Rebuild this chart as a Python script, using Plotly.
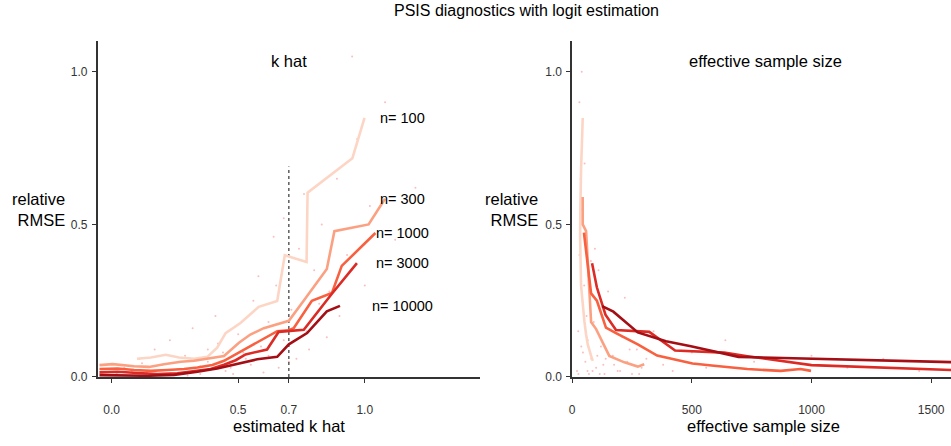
import plotly.graph_objects as go

W, H = 951, 446
FONT = "Liberation Sans, Arial, sans-serif"

# ---------------- data ----------------
series_names = ["n= 100", "n= 300", "n= 1000", "n= 3000", "n= 10000"]
series_colors = ["#fdd5c4", "#fca082", "#f8603f", "#dc2a25", "#a30f15"]

# left panel: estimated k hat vs relative RMSE
k_n100_x = [0.100, 0.155, 0.214, 0.266, 0.326, 0.378, 0.417, 0.450, 0.509, 0.581, 0.654, 0.684, 0.770, 0.774, 0.951, 0.999]
k_n100_y = [0.060, 0.064, 0.073, 0.064, 0.060, 0.066, 0.096, 0.144, 0.177, 0.230, 0.249, 0.399, 0.377, 0.604, 0.717, 0.849]
k_n300_x = [-0.048, 0.004, 0.089, 0.148, 0.207, 0.273, 0.326, 0.384, 0.444, 0.503, 0.548, 0.601, 0.654, 0.700, 0.765, 0.850, 0.880, 1.015, 1.080]
k_n300_y = [0.039, 0.042, 0.035, 0.033, 0.042, 0.050, 0.053, 0.060, 0.069, 0.112, 0.139, 0.160, 0.173, 0.184, 0.257, 0.354, 0.478, 0.500, 0.584]
k_n1000_x = [-0.048, 0.024, 0.089, 0.155, 0.220, 0.286, 0.339, 0.398, 0.444, 0.490, 0.542, 0.601, 0.654, 0.700, 0.719, 0.791, 0.870, 0.909, 1.042]
k_n1000_y = [0.026, 0.028, 0.023, 0.020, 0.023, 0.026, 0.031, 0.039, 0.053, 0.074, 0.099, 0.125, 0.150, 0.153, 0.160, 0.250, 0.275, 0.364, 0.472]
k_n3000_x = [-0.048, 0.024, 0.102, 0.181, 0.260, 0.326, 0.391, 0.444, 0.490, 0.529, 0.614, 0.660, 0.700, 0.759, 0.870, 0.969]
k_n3000_y = [0.015, 0.017, 0.013, 0.010, 0.012, 0.018, 0.026, 0.040, 0.055, 0.074, 0.090, 0.148, 0.151, 0.155, 0.273, 0.373]
k_n10000_x = [-0.048, 0.024, 0.142, 0.247, 0.339, 0.417, 0.496, 0.575, 0.654, 0.700, 0.772, 0.850, 0.902]
k_n10000_y = [0.006, 0.006, 0.004, 0.007, 0.017, 0.028, 0.044, 0.058, 0.066, 0.107, 0.144, 0.215, 0.233]

# right panel: effective sample size vs relative RMSE
e_n100_x = [44, 41, 37, 34, 33, 37, 45, 51, 58, 65, 79, 86]
e_n100_y = [0.849, 0.785, 0.678, 0.550, 0.462, 0.300, 0.215, 0.182, 0.140, 0.107, 0.069, 0.053]
e_n300_x = [44, 44, 58, 79, 100, 155, 218, 274, 301]
e_n300_y = [0.590, 0.500, 0.478, 0.180, 0.157, 0.069, 0.048, 0.034, 0.042]
e_n1000_x = [49, 79, 103, 141, 183, 274, 355, 454, 503, 593, 732, 871, 954, 998]
e_n1000_y = [0.473, 0.274, 0.250, 0.162, 0.144, 0.107, 0.070, 0.053, 0.044, 0.037, 0.026, 0.020, 0.026, 0.020]
e_n3000_x = [83, 103, 139, 183, 322, 430, 635, 732, 1000, 1620]
e_n3000_y = [0.373, 0.294, 0.204, 0.154, 0.148, 0.087, 0.080, 0.068, 0.039, 0.022]
e_n10000_x = [125, 172, 274, 392, 496, 695, 1620]
e_n10000_y = [0.232, 0.214, 0.146, 0.117, 0.101, 0.066, 0.048]

# faint individual estimates (sparse hand-read sample of the point cloud)
k_pts_x = [0.02, 0.05, 0.08, 0.11, 0.14, 0.17, 0.20, 0.23, 0.26, 0.29, 0.32, 0.35, 0.38, 0.41, 0.44,
           0.47, 0.50, 0.53, 0.56, 0.59, 0.62, 0.65, 0.68, 0.71, 0.74, 0.77, 0.80, 0.83, 0.86, 0.89,
           0.93, 0.97, 1.02, 1.08, 0.35, 0.45, 0.55, 0.62, 0.70, 0.78, 0.85, 0.60, 0.66, 0.73, 0.52,
           0.42, 0.30, 0.12, 0.90, 1.00, 1.12, 1.20, 0.58, 0.64, 0.76, 0.82, 0.48, 0.38, 0.68, 0.95]
k_pts_y = [0.010, 0.030, 0.020, 0.060, 0.015, 0.090, 0.040, 0.120, 0.025, 0.070, 0.160, 0.035, 0.050, 0.200, 0.080,
           0.030, 0.140, 0.060, 0.250, 0.100, 0.180, 0.300, 0.120, 0.220, 0.420, 0.150, 0.350, 0.500, 0.280, 0.650,
           0.400, 0.780, 0.560, 0.900, 0.010, 0.020, 0.040, 0.070, 0.050, 0.090, 0.130, 0.015, 0.030, 0.060, 0.080,
           0.110, 0.005, 0.045, 0.200, 0.300, 0.450, 0.620, 0.330, 0.460, 0.600, 0.240, 0.010, 0.090, 0.520, 1.050]
e_pts_x = [20, 25, 30, 35, 40, 45, 50, 55, 60, 65, 70, 75, 80, 90, 100, 110, 120, 130, 150, 170,
           190, 210, 230, 250, 270, 290, 310, 340, 380, 420, 500, 560, 640, 760, 880, 1000, 1150, 1300, 1450, 30,
           42, 55, 68, 85, 95, 115, 140, 160, 200, 240, 280, 26, 38, 52, 64, 78, 105, 135, 175, 220]
e_pts_y = [0.020, 0.150, 0.400, 0.650, 1.000, 0.080, 0.300, 0.050, 0.200, 0.120, 0.010, 0.250, 0.060, 0.180, 0.030,
           0.350, 0.100, 0.040, 0.280, 0.070, 0.020, 0.130, 0.050, 0.010, 0.090, 0.030, 0.060, 0.150, 0.040, 0.020,
           0.080, 0.030, 0.120, 0.050, 0.020, 0.070, 0.030, 0.060, 0.020, 0.900, 0.550, 0.450, 0.330, 0.020, 0.420,
           0.010, 0.060, 0.220, 0.020, 0.090, 0.010, 0.010, 0.100, 0.700, 0.020, 0.380, 0.070, 0.010, 0.040, 0.260]

x_ticks_k = [0.0, 0.5, 0.7, 1.0]
x_ticklabels_k = ["0.0", "0.5", "0.7", "1.0"]
x_ticks_e = [0, 500, 1000, 1500]
y_ticks = [0.0, 0.5, 1.0]
y_ticklabels = ["0.0", "0.5", "1.0"]

k_cut = 0.7
k_cut_top = 0.69

# ---------------- figure ----------------
fig = go.Figure()

pt_color = "rgba(240,70,70,0.35)"
fig.add_trace(go.Scatter(x=k_pts_x, y=k_pts_y, mode="markers", xaxis="x", yaxis="y",
                         marker=dict(size=2, color=pt_color, line=dict(width=0)),
                         showlegend=False, hoverinfo="skip"))
fig.add_trace(go.Scatter(x=e_pts_x, y=e_pts_y, mode="markers", xaxis="x2", yaxis="y2",
                         marker=dict(size=2, color=pt_color, line=dict(width=0)),
                         showlegend=False, hoverinfo="skip"))

# dashed cut line at k = 0.7
fig.add_trace(go.Scatter(x=[k_cut, k_cut], y=[0, k_cut_top], mode="lines", xaxis="x", yaxis="y",
                         line=dict(color="#444444", width=1.3, dash="3px,3px"),
                         showlegend=False, hoverinfo="skip"))

k_series = [(k_n100_x, k_n100_y), (k_n300_x, k_n300_y), (k_n1000_x, k_n1000_y),
            (k_n3000_x, k_n3000_y), (k_n10000_x, k_n10000_y)]
e_series = [(e_n100_x, e_n100_y), (e_n300_x, e_n300_y), (e_n1000_x, e_n1000_y),
            (e_n3000_x, e_n3000_y), (e_n10000_x, e_n10000_y)]

for (xs, ys), name, col in zip(k_series, series_names, series_colors):
    fig.add_trace(go.Scatter(x=xs, y=ys, mode="lines", name=name, xaxis="x", yaxis="y",
                             line=dict(color=col, width=2.6), showlegend=False))
for (xs, ys), name, col in zip(e_series, series_names, series_colors):
    fig.add_trace(go.Scatter(x=xs, y=ys, mode="lines", name=name, xaxis="x2", yaxis="y2",
                             line=dict(color=col, width=2.6), showlegend=False))

# series labels at the end of each k-hat curve
label_x = 1.15
annotations = []
for (xs, ys), name in zip(k_series, series_names):
    annotations.append(dict(x=label_x, y=ys[-1], xref="x", yref="y", text=name, showarrow=False,
                            xanchor="center", yanchor="middle",
                            font=dict(family=FONT, size=14.5, color="#000000")))

dom_y = [1 - 383 / H, 1 - 42 / H]
dom_x1 = [95 / W, 479 / W]
dom_x2 = [571 / W, 1.0]

def px_x(p):
    return p / W

def px_y(p):
    return 1 - p / H

TXT = 16.5
# panel titles
annotations.append(dict(x=px_x(287), y=px_y(62), xref="paper", yref="paper", text="k hat",
                        showarrow=False, xanchor="center", yanchor="middle",
                        font=dict(family=FONT, size=TXT, color="#000000")))
annotations.append(dict(x=px_x(765), y=px_y(62), xref="paper", yref="paper", text="effective sample size",
                        showarrow=False, xanchor="center", yanchor="middle",
                        font=dict(family=FONT, size=TXT, color="#000000")))
# x axis titles
annotations.append(dict(x=px_x(287), y=px_y(433), xref="paper", yref="paper", text="estimated k hat",
                        showarrow=False, xanchor="center", yanchor="middle",
                        font=dict(family=FONT, size=TXT, color="#000000")))
annotations.append(dict(x=px_x(763), y=px_y(433), xref="paper", yref="paper", text="effective sample size",
                        showarrow=False, xanchor="center", yanchor="middle",
                        font=dict(family=FONT, size=TXT, color="#000000")))
# y axis titles (horizontal, right aligned)
for xr in [64, 539]:
    annotations.append(dict(x=px_x(xr), y=px_y(213), xref="paper", yref="paper",
                            text="relative<br>RMSE", showarrow=False, xanchor="right",
                            yanchor="middle", align="right",
                            font=dict(family=FONT, size=TXT, color="#000000")))
# main title
annotations.append(dict(x=px_x(525), y=px_y(11), xref="paper", yref="paper",
                        text="PSIS diagnostics with logit estimation", showarrow=False,
                        xanchor="center", yanchor="middle",
                        font=dict(family=FONT, size=16, color="#000000")))

axis_common = dict(showgrid=False, zeroline=False, showline=True, linecolor="#333333", linewidth=1.5,
                   ticks="outside", ticklen=4, tickwidth=1.2, tickcolor="#333333",
                   tickfont=dict(family=FONT, size=12, color="#333333"), fixedrange=True)

fig.update_layout(
    width=W, height=H,
    margin=dict(l=0, r=0, t=0, b=0),
    paper_bgcolor="white", plot_bgcolor="white",
    showlegend=False,
    xaxis=dict(domain=dom_x1, range=[-0.055, 1.457], tickmode="array", tickvals=x_ticks_k,
               ticktext=x_ticklabels_k, anchor="y", ticklabelstandoff=17, **axis_common),
    yaxis=dict(domain=dom_y, range=[0, 1.1], tickmode="array", tickvals=y_ticks,
               ticktext=y_ticklabels, anchor="x", ticklabelstandoff=2, **axis_common),
    xaxis2=dict(domain=dom_x2, range=[0, 1583], tickmode="array", tickvals=x_ticks_e,
                ticktext=[str(v) for v in x_ticks_e], anchor="y2", ticklabelstandoff=17, **axis_common),
    yaxis2=dict(domain=dom_y, range=[0, 1.1], tickmode="array", tickvals=y_ticks,
                ticktext=y_ticklabels, anchor="x2", ticklabelstandoff=2, **axis_common),
    annotations=annotations,
)

fig.write_html("out.html")
